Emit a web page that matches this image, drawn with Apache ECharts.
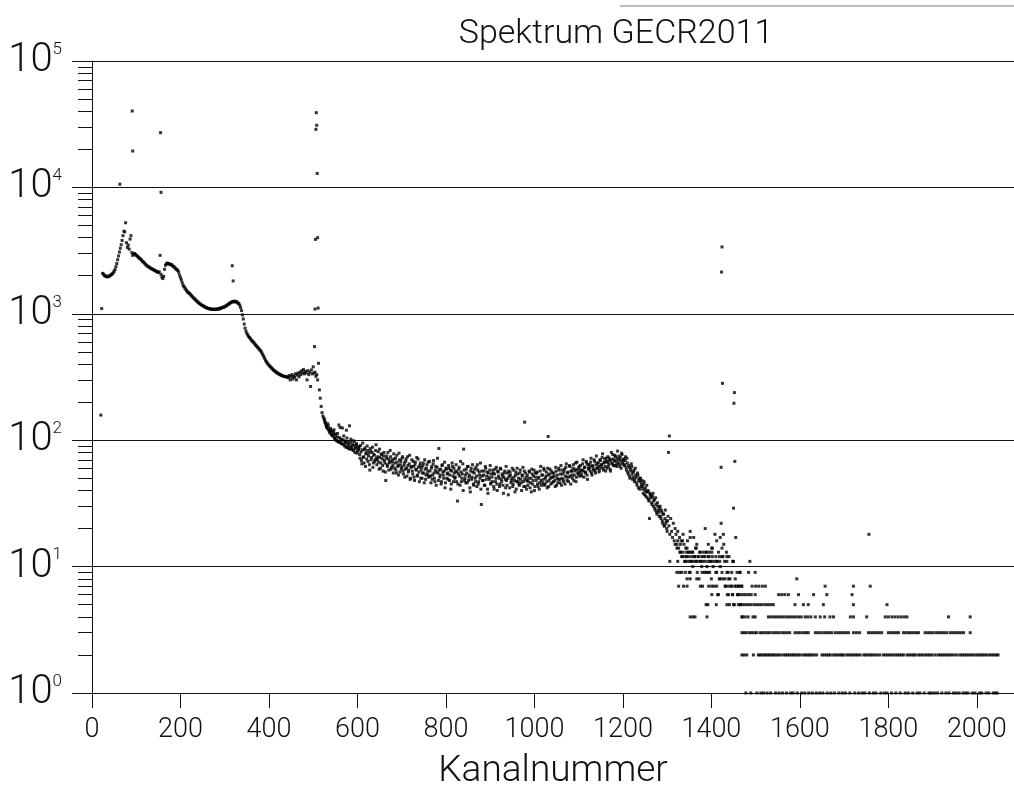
<!DOCTYPE html>
<html>
<head>
<meta charset="utf-8">
<script src="https://cdn.jsdelivr.net/npm/echarts@6/dist/echarts.min.js"></script>
<style>
  html, body { margin: 0; padding: 0; background: #fff; }
  #chart { width: 1014px; height: 785px; }
</style>
</head>
<body>
<div id="chart"></div>
<script>
// Gamma spectrum GECR2011: counts per channel on a logarithmic scale.

// Channel axis labels and decade labels of the count axis
const xTickValues = [0, 200, 400, 600, 800, 1000, 1200, 1400, 1600, 1800, 2000];
const yDecades = [1, 10, 100, 1000, 10000, 100000];

// Continuum, even channels 24 .. 602
const lowStart = 24;
const lowCounts = [
  2090, 2060, 2010, 1990, 1975, 1960, 1985, 1970, 2000, 2020,
  2050, 2070, 2110, 2170, 2240, 2360, 2500, 2680, 2870, 3080,
  3300, 3520, 3800, 4150, 4500, 4450, 5250, 3650, 3350, 3500,
  3250, 3900, 4150, 3050, 2900, 2980, 3000, 2950, 2900, 2870,
  2820, 2780, 2740, 2700, 2660, 2600, 2570, 2530, 2480, 2440,
  2400, 2380, 2350, 2330, 2300, 2280, 2260, 2240, 2220, 2200,
  2180, 2160, 2140, 2120, 2150, 2900, 2050, 1950, 1900, 1980,
  2250, 2420, 2480, 2520, 2500, 2470, 2480, 2440, 2450, 2400,
  2370, 2340, 2300, 2260, 2230, 2200, 2130, 2020, 1930, 1850,
  1760, 1680, 1640, 1600, 1560, 1520, 1490, 1470, 1450, 1430,
  1400, 1380, 1350, 1330, 1310, 1290, 1270, 1250, 1230, 1215,
  1200, 1185, 1170, 1160, 1150, 1140, 1130, 1120, 1110, 1105,
  1100, 1095, 1090, 1085, 1090, 1080, 1085, 1090, 1080, 1085,
  1095, 1100, 1090, 1110, 1105, 1120, 1130, 1125, 1140, 1150,
  1160, 1175, 1190, 1200, 1215, 1230, 1240, 1250, 1245, 1260,
  1240, 1250, 1235, 1215, 1200, 1170, 1120, 1060, 980, 910,
  830, 770, 730, 700, 680, 660, 650, 635, 620, 610,
  600, 590, 575, 565, 555, 545, 535, 525, 515, 505,
  490, 475, 460, 445, 430, 418, 408, 400, 392, 385,
  378, 372, 366, 360, 355, 350, 346, 342, 338, 335,
  332, 329, 326, 324, 322, 320, 319, 318, 317, 316,
  312, 325, 300, 318, 330, 305, 322, 315, 335, 300,
  328, 340, 318, 345, 330, 355, 340, 362, 335, 350,
  340, 300, 355, 330, 345, 266, 360, 335, 381, 340,
  345, 320, 330, 300, 406, 250, 215, 185, 165, 155,
  150, 142, 136, 128, 124, 130, 118, 114, 120, 110,
  108, 115, 104, 112, 100, 106, 98, 132, 96, 102,
  94, 125, 100, 92, 98, 88, 104, 93, 86, 130,
  96, 89, 84, 99, 91, 80, 88, 94, 82, 86
];

// Continuum, odd channels 525 .. 603
const lowOddStart = 525;
const lowOddCounts = [
  146, 138, 131, 127, 135, 121, 117, 124, 112, 118,
  109, 121, 103, 110, 99, 113, 97, 105, 126, 95,
  101, 93, 108, 90, 96, 120, 88, 97, 91, 85,
  102, 87, 93, 83, 98, 86, 92, 79, 89, 84
];

// Plateau, even channels 604 .. 1202
const midStart = 604;
const midCounts = [
  88, 72, 81, 65, 95, 74, 84, 62, 78, 90,
  68, 79, 58, 82, 73, 88, 66, 76, 70, 92,
  64, 74, 67, 85, 60, 77, 71, 57, 80, 66,
  48, 75, 62, 71, 66, 83, 59, 70, 63, 78,
  60, 72, 55, 67, 63, 79, 56, 68, 61, 74,
  54, 66, 59, 71, 52, 63, 58, 76, 50, 62,
  57, 68, 51, 64, 59, 73, 53, 61, 47, 66,
  58, 50, 63, 55, 70, 49, 60, 54, 67, 52,
  57, 46, 62, 53, 69, 50, 58, 44, 61, 55,
  86, 51, 59, 47, 64, 53, 57, 42, 60, 50,
  55, 63, 48, 58, 45, 66, 52, 60, 50, 57,
  47, 33, 54, 61, 44, 56, 50, 65, 85, 48,
  53, 59, 46, 62, 51, 42, 57, 49, 64, 45,
  55, 50, 61, 43, 58, 47, 53, 66, 31, 52,
  48, 57, 44, 60, 52, 41, 55, 49, 63, 46,
  51, 58, 43, 54, 47, 61, 40, 56, 50, 45,
  59, 47, 52, 38, 55, 49, 62, 44, 50, 57,
  42, 53, 48, 60, 45, 51, 39, 56, 47, 54,
  50, 44, 58, 46, 52, 61, 43, 49, 55, 41,
  53, 47, 57, 42, 50, 59, 45, 52, 40, 55,
  48, 56, 43, 51, 46, 62, 44, 53, 49, 58,
  45, 52, 47, 60, 43, 54, 50, 57, 46, 51,
  55, 48, 61, 44, 53, 49, 58, 46, 63, 50,
  54, 47, 59, 52, 65, 48, 56, 51, 62, 45,
  57, 50, 64, 53, 59, 47, 67, 55, 60, 52,
  63, 54, 58, 70, 51, 61, 56, 66, 49, 60,
  64, 57, 72, 53, 62, 58, 68, 55, 75, 60,
  66, 56, 70, 61, 64, 78, 58, 67, 62, 72,
  60, 74, 65, 69, 57, 80, 66, 71, 63, 76,
  68, 62, 82, 70, 65, 73, 60, 77, 67, 71
];

// Plateau, odd channels 605 .. 1203
const midOddStart = 605;
const midOddCounts = [
  77, 91, 69, 84, 73, 66, 87, 79, 71, 83,
  75, 64, 86, 70, 80, 61, 77, 68, 83, 72,
  70, 81, 59, 73, 66, 78, 63, 75, 69, 56,
  72, 64, 80, 58, 68, 74, 61, 67, 55, 71,
  66, 58, 76, 62, 53, 70, 64, 59, 72, 57,
  63, 51, 68, 60, 74, 56, 65, 49, 61, 70,
  54, 62, 48, 67, 58, 52, 71, 56, 63, 50,
  61, 55, 66, 46, 59, 53, 64, 57, 51, 68,
  52, 60, 49, 65, 55, 47, 62, 56, 72, 48,
  58, 53, 45, 63, 56, 50, 67, 46, 59, 54,
  49, 60, 53, 41, 57, 62, 47, 55, 51, 64,
  56, 45, 59, 52, 68, 47, 54, 40, 58, 50,
  46, 55, 62, 48, 53, 39, 60, 51, 56, 44,
  59, 47, 52, 64, 45, 56, 50, 41, 57, 48,
  53, 44, 62, 49, 56, 38, 51, 58, 45, 54,
  47, 55, 41, 59, 50, 45, 57, 52, 43, 60,
  49, 54, 44, 51, 57, 42, 48, 55, 37, 52,
  56, 46, 50, 43, 58, 48, 53, 41, 60, 47,
  45, 55, 49, 40, 53, 47, 57, 43, 51, 48,
  44, 50, 56, 46, 39, 54, 48, 58, 43, 51,
  55, 45, 50, 41, 57, 48, 53, 46, 60, 44,
  50, 56, 42, 53, 48, 59, 45, 51, 55, 47,
  52, 43, 57, 50, 46, 60, 49, 54, 44, 58,
  49, 56, 45, 61, 51, 55, 47, 63, 52, 57,
  53, 60, 48, 57, 66, 51, 58, 54, 62, 56,
  58, 52, 65, 57, 61, 55, 68, 53, 64, 59,
  61, 67, 55, 63, 59, 70, 57, 64, 60, 66,
  62, 58, 69, 64, 73, 60, 66, 71, 57, 68,
  67, 62, 72, 59, 70, 65, 77, 63, 69, 74,
  64, 72, 66, 75, 62, 69, 79, 65, 70, 63
];

// Compton edge fall-off, even channels 1204 .. 1470
const dropStart = 1204;
const dropCounts = [
  64, 74, 58, 66, 54, 61, 50, 57, 62, 49,
  56, 47, 60, 51, 44, 53, 48, 41, 50, 45,
  43, 38, 47, 40, 36, 44, 39, 34, 24, 37,
  35, 31, 38, 33, 29, 35, 27, 32, 28, 25,
  30, 24, 27, 22, 26, 21, 28, 23, 19, 25,
  21, 18, 24, 19, 17, 22, 16, 20, 18, 15,
  19, 14, 17, 13, 16, 12, 18, 15, 11, 14,
  12, 16, 13, 9, 19, 11, 13, 10, 17, 12,
  11, 14, 9, 12, 8, 13, 11, 10, 7, 12,
  9, 20, 13, 10, 5, 12, 9, 11, 8, 14,
  10, 7, 18, 9, 11, 6, 13, 8, 10, 22,
  12, 8, 15, 11, 7, 13, 6, 9, 12, 8,
  7, 9, 6, 11, 5, 8, 7, 9, 6, 7,
  9, 5, 7, 4
];

// Compton edge fall-off, odd channels 1205 .. 1301
const dropOddStart = 1205;
const dropOddCounts = [
  69, 61, 72, 56, 63, 52, 59, 65, 54, 51,
  58, 49, 53, 46, 55, 42, 50, 47, 43, 48,
  41, 45, 37, 42, 39, 35, 40, 33, 38, 36,
  32, 36, 30, 34, 28, 31, 26, 30, 27, 29,
  25, 28, 23, 26, 21, 24, 22, 20, 23
];

// Channels with low integer counts in the high-energy tail
const channelsAt1 = [1478, 1489, 1503, 1512, 1518, 1526, 1534, 1545, 1553, 1561, 1570, 1579, 1585, 1594, 1604, 1611, 1620, 1628, 1637, 1645, 1652, 1662, 1670, 1678, 1688, 1696, 1703, 1713, 1724, 1733, 1741, 1747, 1757, 1766, 1772, 1783, 1791, 1797, 1807, 1817, 1827, 1838, 1845, 1855, 1865, 1871, 1881, 1892, 1897, 1904, 1911, 1921, 1930, 1937, 1947, 1953, 1960, 1969, 1975, 1980, 1990, 1996, 2006, 2011, 2021, 2027, 2037, 2042, 2046];
const channelsAt2 = [1469, 1474, 1480, 1495, 1506, 1510, 1514, 1519, 1523, 1528, 1532, 1537, 1541, 1546, 1551, 1556, 1563, 1568, 1572, 1577, 1582, 1586, 1591, 1596, 1601, 1608, 1613, 1617, 1622, 1627, 1632, 1638, 1650, 1655, 1660, 1665, 1669, 1676, 1681, 1686, 1691, 1695, 1699, 1706, 1711, 1716, 1721, 1726, 1731, 1736, 1744, 1749, 1754, 1759, 1764, 1769, 1775, 1781, 1789, 1794, 1799, 1804, 1809, 1815, 1820, 1825, 1830, 1834, 1842, 1847, 1852, 1857, 1861, 1868, 1873, 1878, 1884, 1889, 1894, 1899, 1906, 1913, 1918, 1923, 1928, 1933, 1938, 1943, 1949, 1955, 1962, 1967, 1972, 1977, 1982, 1987, 1992, 1998, 2003, 2008, 2013, 2018, 2023, 2029, 2034, 2039, 2044, 2048];
const channelsAt3 = [1469, 1474, 1479, 1486, 1491, 1497, 1502, 1510, 1515, 1521, 1527, 1533, 1540, 1546, 1552, 1559, 1565, 1571, 1577, 1589, 1595, 1601, 1608, 1614, 1619, 1635, 1641, 1647, 1654, 1660, 1666, 1672, 1680, 1686, 1692, 1698, 1704, 1710, 1721, 1728, 1735, 1755, 1761, 1767, 1773, 1779, 1785, 1800, 1806, 1812, 1818, 1823, 1834, 1840, 1846, 1851, 1857, 1863, 1868, 1883, 1889, 1895, 1901, 1908, 1914, 1920, 1926, 1932, 1940, 1946, 1952, 1958, 1964, 1970, 1985];
const channelsAt4 = [1352, 1358, 1363, 1390, 1469, 1476, 1483, 1494, 1499, 1529, 1535, 1541, 1547, 1553, 1559, 1565, 1572, 1578, 1584, 1590, 1597, 1603, 1612, 1618, 1625, 1635, 1646, 1656, 1668, 1676, 1714, 1721, 1751, 1793, 1800, 1808, 1815, 1822, 1829, 1836, 1842, 1936, 1985];
const channelsAt5 = [1388, 1411, 1435, 1441, 1450, 1461, 1466, 1472, 1478, 1484, 1490, 1497, 1503, 1509, 1515, 1522, 1528, 1534, 1540, 1589, 1608, 1619, 1653, 1721, 1797];
const channelsAt6 = [1401, 1416, 1439, 1448, 1459, 1465, 1471, 1477, 1484, 1490, 1499, 1552, 1559, 1566, 1574, 1597, 1631, 1661, 1718];
const channelsAt7 = [1326, 1337, 1345, 1375, 1394, 1401, 1412, 1431, 1438, 1446, 1453, 1461, 1469, 1492, 1500, 1507, 1515, 1522, 1657, 1721, 1759];
const channelsAt8 = [1345, 1352, 1367, 1420, 1431, 1439, 1593];
const channelsAt9 = [1322, 1328, 1333, 1341, 1352, 1379, 1388, 1392, 1412, 1424, 1435, 1465, 1484, 1499];

// Further single channels [channel, counts] around the Compton edge
const sparsePoints = [
  [1306, 11], [1324, 11], [1340, 11], [1346, 11], [1352, 11], [1358, 11], [1367, 11], [1373, 11], [1380, 11],
  [1386, 11], [1393, 11], [1400, 11], [1406, 11], [1413, 11], [1419, 11], [1435, 11], [1448, 11], [1487, 11],
  [1333, 12], [1340, 12], [1348, 12], [1355, 12], [1362, 12], [1370, 12], [1378, 12], [1386, 12], [1394, 12],
  [1402, 12], [1410, 12], [1418, 12], [1426, 12], [1435, 12],
  [1329, 13], [1336, 13], [1344, 13], [1351, 13], [1358, 13], [1374, 13], [1381, 13], [1388, 13], [1395, 13], [1401, 13],
  [1322, 14], [1345, 14], [1364, 14], [1401, 14], [1424, 14],
  [1318, 15], [1330, 15], [1367, 15], [1393, 15],
  [1324, 16], [1335, 16], [1412, 16],
  [1352, 17], [1420, 17],
  [1427, 18]
];

// Line peaks and isolated channels [channel, counts]
const peakPoints = [
  [20, 158], [22, 1100], [63, 10600], [91, 40200], [92, 19400], [155, 27100], [156, 9140],
  [317, 2400], [319, 1820],
  [503, 550], [504, 1090], [505, 3880], [506, 28800], [507, 39000], [508, 31000], [509, 12900], [510, 4000], [511, 1110],
  [978, 139], [1031, 107], [1303, 80], [1305, 108],
  [1422, 61], [1423, 2140], [1424, 3380], [1425, 282],
  [1450, 29], [1451, 196], [1452, 238], [1453, 68], [1455, 17], [1756, 18]
];

// ---- assemble the scatter data ----
const points = [];
function addRun(start, values) {
  values.forEach(function (v, i) { points.push([start + 2 * i, v]); });
}
addRun(lowStart, lowCounts);
addRun(lowOddStart, lowOddCounts);
addRun(midStart, midCounts);
addRun(midOddStart, midOddCounts);
addRun(dropStart, dropCounts);
addRun(dropOddStart, dropOddCounts);
[[1, channelsAt1], [2, channelsAt2], [3, channelsAt3], [4, channelsAt4], [5, channelsAt5],
 [6, channelsAt6], [7, channelsAt7], [8, channelsAt8], [9, channelsAt9]].forEach(function (row) {
  row[1].forEach(function (ch) { points.push([ch, row[0]]); });
});
sparsePoints.forEach(function (p) { points.push(p); });
peakPoints.forEach(function (p) { points.push(p); });

// minor log ticks 2..9 within every decade
const minorTicks = [];
yDecades.slice(0, -1).forEach(function (d) {
  for (let k = 2; k <= 9; k++) minorTicks.push(d * k);
});

const FONT = 'Roboto, "Noto Sans", "DejaVu Sans", sans-serif';
const INK = '#111';
const lineStyle = { color: INK, width: 1 };

const chart = echarts.init(document.getElementById('chart'));
chart.setOption({
  animation: false,
  backgroundColor: '#fff',
  title: {
    text: 'Spektrum GECR2011',
    left: 611,
    top: 12,
    textAlign: 'center',
    textStyle: { fontFamily: FONT, fontWeight: 300, fontSize: 34, color: INK }
  },
  grid: { left: 92, right: 0, top: 61, bottom: 92, containLabel: false, outerBoundsMode: 'none' },
  xAxis: {
    type: 'value',
    min: 0,
    max: 2084,
    interval: 200,
    axisLine: { show: true, onZero: false, lineStyle: lineStyle },
    axisTick: { show: true, length: 15, customValues: xTickValues, lineStyle: lineStyle },
    axisLabel: {
      customValues: xTickValues,
      margin: 24,
      formatter: function (v) { return String(v); },
      fontFamily: FONT, fontWeight: 300, fontSize: 27, color: INK
    },
    splitLine: { show: false },
    name: 'Kanalnummer',
    nameLocation: 'middle',
    nameGap: 60,
    nameTextStyle: { fontFamily: FONT, fontWeight: 300, fontSize: 37, color: INK }
  },
  yAxis: [
    {
      type: 'log',
      logBase: 10,
      min: 1,
      max: 100000,
      axisLine: { show: true, lineStyle: lineStyle },
      axisTick: { show: true, length: 20, customValues: yDecades, lineStyle: lineStyle },
      axisLabel: {
        customValues: yDecades,
        margin: 30,
        formatter: function (v) {
          return '{m|10}{e|' + Math.round(Math.log10(v)) + '}';
        },
        rich: {
          m: { fontFamily: FONT, fontWeight: 300, fontSize: 40, color: INK },
          e: { fontFamily: FONT, fontWeight: 300, fontSize: 17, color: INK, verticalAlign: 'top' }
        }
      },
      splitLine: { show: true, lineStyle: lineStyle }
    },
    {
      type: 'log',
      logBase: 10,
      min: 1,
      max: 100000,
      position: 'left',
      axisLine: { show: false },
      axisTick: { show: true, length: 14, customValues: minorTicks, lineStyle: lineStyle },
      axisLabel: { show: false },
      splitLine: { show: false }
    }
  ],
  series: [{
    type: 'scatter',
    yAxisIndex: 0,
    data: points,
    symbol: 'rect',
    symbolSize: 3,
    clip: false,
    silent: true,
    itemStyle: { color: '#000' }
  }],
  graphic: [{
    type: 'line',
    shape: { x1: 620, y1: 6, x2: 1014, y2: 6 },
    style: { stroke: '#777', lineWidth: 1 }
  }]
});
</script>
</body>
</html>
